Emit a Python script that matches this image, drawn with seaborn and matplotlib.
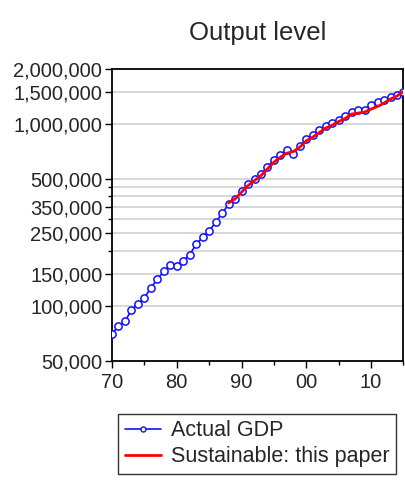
import numpy as np
import pandas as pd
import matplotlib
matplotlib.use("Agg")
import matplotlib.pyplot as plt
import matplotlib.ticker as mticker
import seaborn as sns

years = list(range(1970, 2016))
actual_gdp = [70250, 77300, 82300, 94400, 102800, 110500, 125400, 139900, 154400, 167800,
              164700, 176800, 191000, 217600, 238200, 257600, 286800, 322400, 360400, 385600,
              425000, 467400, 496200, 530600, 580000, 633600, 677800, 719200, 683400, 756600,
              826800, 866200, 930000, 966200, 1008800, 1047800, 1096800, 1159800, 1183400, 1194000,
              1272400, 1316600, 1350200, 1402400, 1443800, 1494200]
sust_years = list(range(1988, 2016))
sustainable = [367400, 386400, 420800, 457400, 487200, 519200, 565200, 615200, 655800, 689600,
               704000, 744200, 806000, 844800, 895200, 946800, 983400, 1029600, 1069400, 1130600,
               1144800, 1159800, 1204600, 1245000, 1299800, 1367600, 1420600, 1505600]

y_major = [50000, 100000, 150000, 250000, 350000, 500000, 1000000, 1500000, 2000000]
y_minor = [200000, 300000, 400000, 450000]
x_major = [1970, 1980, 1990, 2000, 2010]
x_labels = ["70", "80", "90", "00", "10"]
x_minor = [1975, 1985, 1995, 2005, 2015]

title = "Output level"
label_actual = "Actual GDP"
label_sust = "Sustainable: this paper"

sns.set_style("white")
plt.rcParams["font.family"] = ["Liberation Sans", "DejaVu Sans"]

df_a = pd.DataFrame({"year": years, "value": actual_gdp})
df_s = pd.DataFrame({"year": sust_years, "value": sustainable})

fig = plt.figure(figsize=(4.06, 4.95), dpi=100)
ax = fig.add_axes([0.2759, 0.2717, 0.9938 - 0.2759, 0.8606 - 0.2717])

ax.set_yscale("log")
for v in y_major[1:-1] + y_minor:
    ax.axhline(v, color="#d4d4d4", lw=1.3, zorder=0)

sns.lineplot(data=df_a, x="year", y="value", ax=ax, color="#1010ff", lw=1.2,
             marker="o", markersize=5.2, markerfacecolor="white",
             markeredgecolor="#1010ff", markeredgewidth=1.1, label=label_actual,
             legend=False, zorder=3)
sns.lineplot(data=df_s, x="year", y="value", ax=ax, color="#ff0000", lw=2.0,
             label=label_sust, legend=False, zorder=4)

ax.set_xlim(1970, 2015)
ax.set_ylim(50000, 2000000)
ax.yaxis.set_major_locator(mticker.FixedLocator(y_major))
ax.yaxis.set_major_formatter(mticker.FuncFormatter(lambda v, p: f"{int(round(v)):,}"))
ax.yaxis.set_minor_locator(mticker.FixedLocator(y_minor))
ax.yaxis.set_minor_formatter(mticker.NullFormatter())
ax.xaxis.set_major_locator(mticker.FixedLocator(x_major))
ax.xaxis.set_major_formatter(mticker.FixedFormatter(x_labels))
ax.xaxis.set_minor_locator(mticker.FixedLocator(x_minor))
ax.set_xlabel("")
ax.set_ylabel("")

ax.tick_params(axis="both", which="major", direction="out", length=5, width=1,
               labelsize=14.5, color="black", left=True, bottom=True)
ax.tick_params(axis="y", which="major", pad=2)
ax.tick_params(axis="x", which="major", pad=4)
ax.tick_params(axis="both", which="minor", direction="out", length=3, width=1,
               color="black", left=True, bottom=True)
for s in ax.spines.values():
    s.set_visible(True)
    s.set_color("black")
    s.set_linewidth(1.3)

ax.set_title(title, fontsize=18.5, pad=21)

handles, labels = ax.get_legend_handles_labels()
leg = fig.legend(handles, labels, loc="upper center", bbox_to_anchor=(0.633, 1 - 414 / 495),
                 fontsize=15.5, frameon=True, fancybox=False, edgecolor="black",
                 handlelength=1.7, handletextpad=0.45, borderpad=0.3, labelspacing=0.22,
                 borderaxespad=0)
leg.get_frame().set_linewidth(1.0)
for h in leg.legend_handles:
    h.set_markersize(3.6)
    h.set_markeredgewidth(1.0)

fig.savefig("out.png", dpi=100)
